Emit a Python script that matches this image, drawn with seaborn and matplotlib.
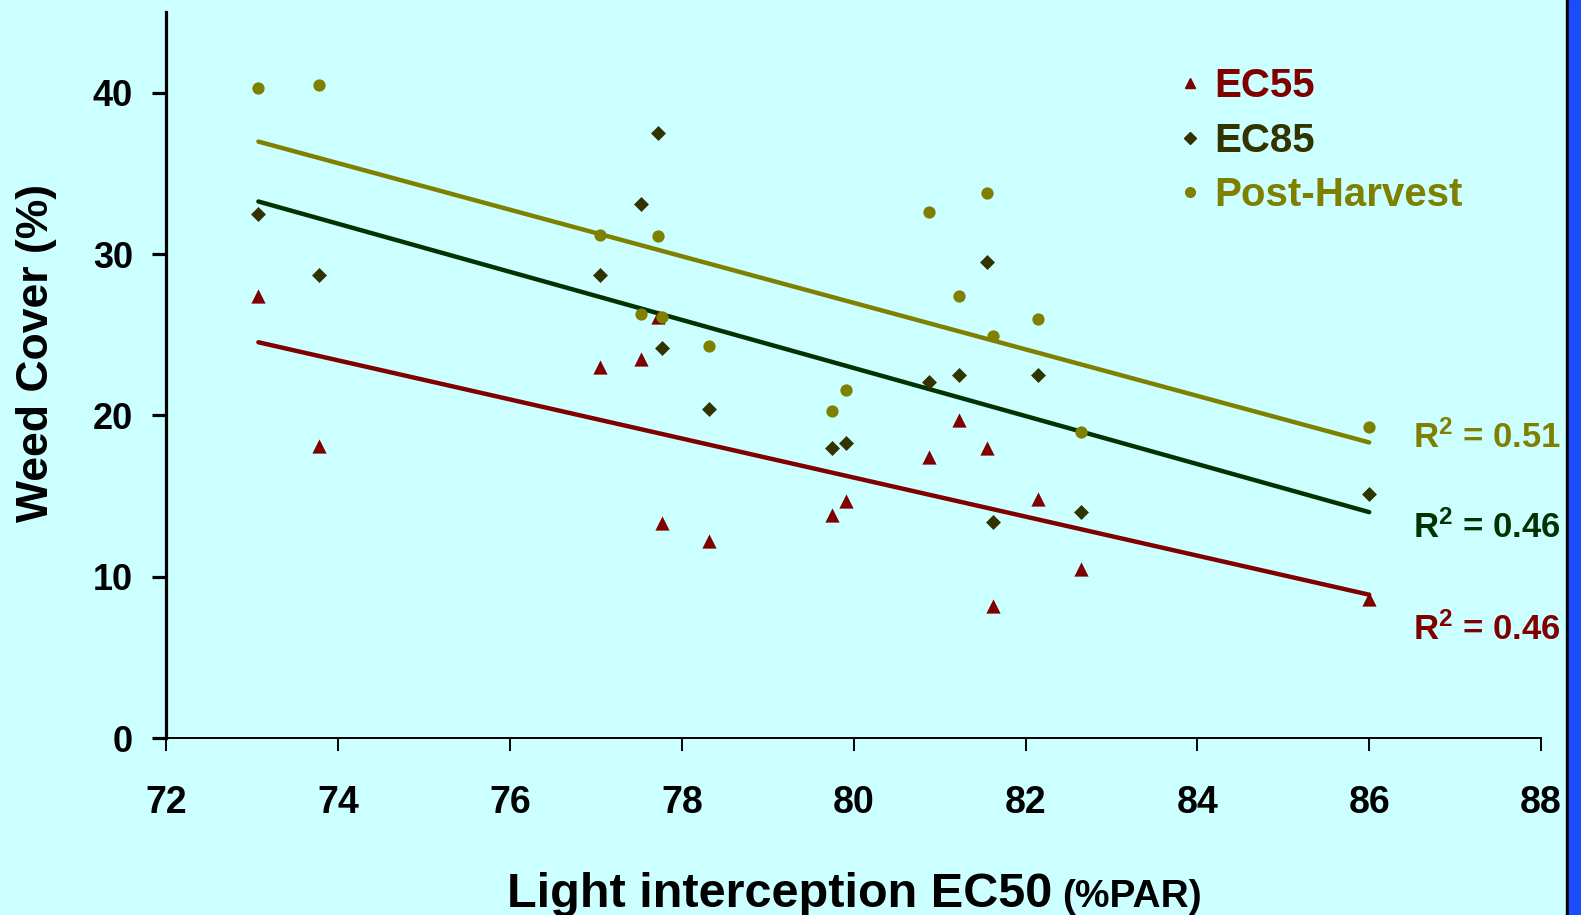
import matplotlib
matplotlib.use("Agg")
import matplotlib.pyplot as plt
import pandas as pd
import seaborn as sns
from matplotlib.lines import Line2D
from matplotlib.patches import Rectangle

# Data (light interception EC50 vs weed cover)
light_ec50 = [73.07, 73.78, 77.05, 77.52, 77.72, 77.77, 78.31, 79.75,
              79.91, 80.88, 81.22, 81.55, 81.62, 82.15, 82.64, 86.0]
ec55 = [27.4, 18.1, 23.0, 23.5, 26.1, 13.3, 12.2, 13.8,
        14.7, 17.4, 19.7, 18.0, 8.2, 14.8, 10.5, 8.6]
ec85 = [32.5, 28.7, 28.7, 33.1, 37.5, 24.2, 20.4, 18.0,
        18.3, 22.1, 22.5, 29.5, 13.4, 22.5, 14.0, 15.1]
post_harvest = [40.3, 40.5, 31.2, 26.3, 31.1, 26.1, 24.3, 20.3,
                21.6, 32.6, 27.4, 33.8, 24.9, 26.0, 19.0, 19.3]
series_names = ["EC55", "EC85", "Post-Harvest"]
r2_labels = ["0.46", "0.46", "0.51"]

df = pd.DataFrame({
    "light": light_ec50 * 3,
    "cover": ec55 + ec85 + post_harvest,
    "stage": [s for s in series_names for _ in light_ec50],
})

bg = "#CCFFFF"
point_colors = {"EC55": "#800000", "EC85": "#333300", "Post-Harvest": "#808000"}
line_colors = {"EC55": "#800000", "EC85": "#003300", "Post-Harvest": "#808000"}
markers = {"EC55": "^", "EC85": "D", "Post-Harvest": "o"}
sizes = {"EC55": 105, "EC85": 58, "Post-Harvest": 78}

sns.set_style("ticks")
plt.rcParams["font.family"] = ["Liberation Sans", "DejaVu Sans"]
plt.rcParams["font.weight"] = "bold"
plt.rcParams["text.color"] = "black"
plt.rcParams["xtick.color"] = "black"
plt.rcParams["ytick.color"] = "black"
plt.rcParams["xtick.labelsize"] = 27
plt.rcParams["ytick.labelsize"] = 26
plt.rcParams["mathtext.fontset"] = "custom"
plt.rcParams["mathtext.rm"] = "Liberation Sans:bold"
plt.rcParams["mathtext.it"] = "Liberation Sans:bold"
plt.rcParams["mathtext.bf"] = "Liberation Sans:bold"

fig = plt.figure(figsize=(15.81, 9.15), dpi=100, facecolor=bg)
ax = fig.add_axes([0.1053, 0.1934, 0.8694, 0.7934])
ax.set_facecolor(bg)

for name in series_names:
    sub = df[df["stage"] == name]
    sns.regplot(data=sub, x="light", y="cover", ax=ax, scatter=False, ci=None,
                truncate=True, line_kws={"color": line_colors[name], "lw": 3.2})
    sns.scatterplot(data=sub, x="light", y="cover", ax=ax, marker=markers[name],
                    color=point_colors[name], s=sizes[name], linewidth=0, zorder=3)

ax.set_xlim(72, 88)
ax.set_ylim(0, 45)
ax.set_xticks(range(72, 89, 2))
ax.set_yticks(range(0, 41, 10))
ax.set_xlabel("")
ax.set_ylabel("")
sns.despine(ax=ax)
ax.spines["left"].set_linewidth(2.3)
ax.spines["bottom"].set_linewidth(1.4)
ax.spines["left"].set_color("black")
ax.spines["bottom"].set_color("black")
ax.tick_params(axis="x", length=9, width=1.4, pad=25)
ax.tick_params(axis="y", length=10, width=2.3, pad=14)
for lab in ax.get_xticklabels() + ax.get_yticklabels():
    lab.set_fontweight("bold")

# legend
handles = [Line2D([], [], ls="", marker=markers[n], color=point_colors[n],
                  markersize=7 if n != "EC85" else 6) for n in series_names]
ax.legend(handles, series_names, loc="upper left", bbox_to_anchor=(0.736, 0.924),
          frameon=False, labelspacing=0.41, handletextpad=0.3,
          handlelength=0.6, borderpad=0, borderaxespad=0,
          labelcolor=[point_colors[n] for n in series_names],
          prop={"weight": "bold", "size": 29})

# R^2 annotations
r2_y = {"Post-Harvest": 438, "EC85": 528, "EC55": 630}
for name, r2 in zip(series_names, r2_labels):
    fig.text(1413 / 1581, 1 - r2_y[name] / 915, "R$^{2}$ = " + r2,
             color=line_colors[name], fontsize=25, fontweight="bold",
             ha="left", va="center")

fig.text(37 / 1581, 1 - 353 / 915, "Weed Cover (%)", rotation=90,
         fontsize=32, fontweight="bold", ha="center", va="center")
fig.text(507 / 1581, 1 - 907 / 915, "Light interception EC50",
         fontsize=35, fontweight="bold", ha="left", va="baseline")
fig.text(1062 / 1581, 1 - 907 / 915, "(%PAR)",
         fontsize=28, fontweight="bold", ha="left", va="baseline")

# right-side frame strip
fig.patches.append(Rectangle((1566 / 1581, 0), 3 / 1581, 1, transform=fig.transFigure,
                             color="black", zorder=5))
fig.patches.append(Rectangle((1569 / 1581, 0), 12 / 1581, 1, transform=fig.transFigure,
                             color="#1A4CFF", zorder=5))

fig.savefig("out.png", dpi=100, facecolor=bg)
